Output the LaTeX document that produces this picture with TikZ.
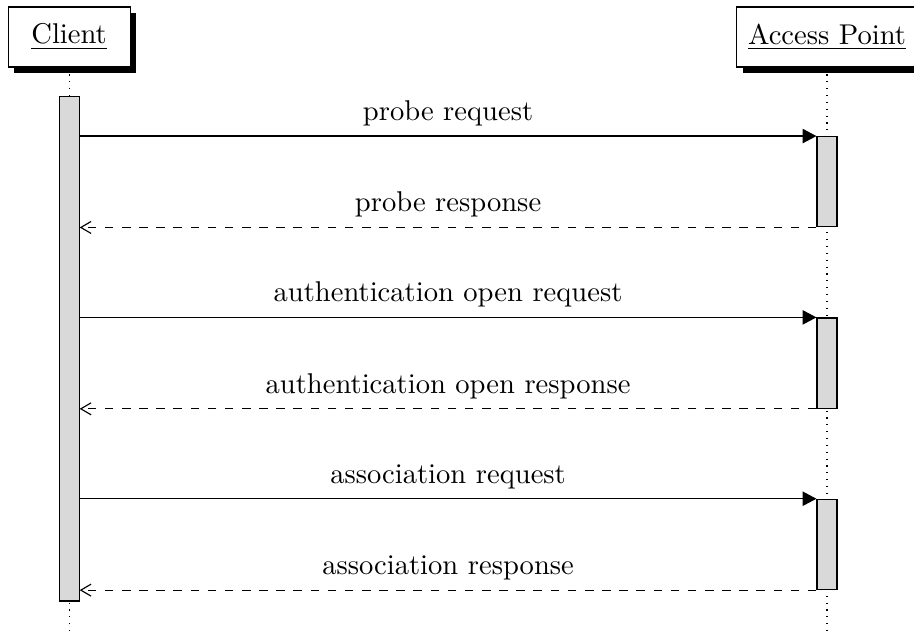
\documentclass[tikz,border=0pt]{standalone}
\usepackage{amsmath}
\usepackage{tikz}
\usetikzlibrary{arrows.meta,shadows}
\tikzset{
  thread/.style={draw,fill=white,minimum width=15mm,minimum height=21pt,inner xsep=4pt,
    drop shadow={shadow xshift=2.2pt,shadow yshift=-2.2pt,fill=black,opacity=1}},
  lifeline/.style={dotted},
  bar/.style={draw,fill=gray!30,minimum width=7pt,inner sep=0pt},
  call/.style={-{Triangle[length=4.8pt,width=5pt]}},
  reply/.style={dashed,-{Straight Barb[length=3.6pt,width=4.2pt]}}
}

\begin{document}
\begin{tikzpicture}
\useasboundingbox (0,0) rectangle (11.24,-7.81);
\node[thread] (client) at (0.85,-0.455) {\underline{Client}};
\node[thread] (ap) at (10.17,-0.455) {\underline{Access Point}};
\coordinate (clientend) at (0.85,-7.78);
\coordinate (apend) at (10.17,-7.78);
\draw[lifeline] (client.south) -- (clientend);
\draw[lifeline] (ap.south) -- (apend);
\node[bar,minimum height=6.2cm] (clientbar) at (0.85,-4.29) {};
\foreach \i/\req/\resp in {1/probe request/probe response,
    2/authentication open request/authentication open response,
    3/association request/association response}{
  \node[bar,minimum height=1.11cm] (apbar\i) at (10.17,{-2.235-(\i-1)*2.23}) {};
  \draw[call] (clientbar.east |- apbar\i.north) -- (apbar\i.north west)
    node[midway,above] {\req};
  \draw[reply] (apbar\i.south west) -- (clientbar.east |- apbar\i.south)
    node[midway,above] {\resp};
}
\end{tikzpicture}
\end{document}
